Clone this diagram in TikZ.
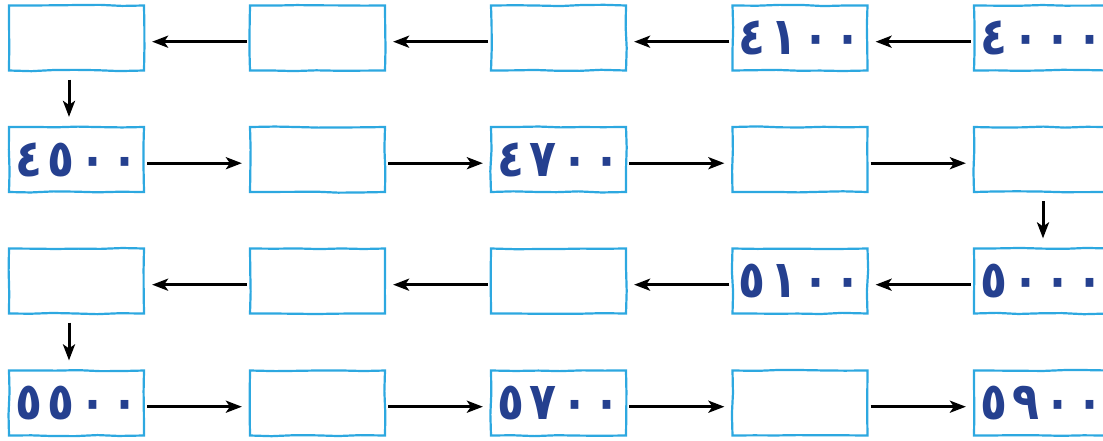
\documentclass[tikz,border=0pt]{standalone}
\usepackage{fontspec}
\usepackage{graphicx}
\usetikzlibrary{arrows.meta,decorations.pathmorphing}
\newfontfamily\arabicfont[Script=Arabic]{DejaVu Sans}
\definecolor{boxblue}{HTML}{2DA8E0}
\definecolor{numblue}{HTML}{25408F}
% four digits on a fixed pitch
\newcommand{\dg}[1]{\makebox[32pt]{\scalebox{0.85}[1]{#1}}}
\newcommand{\arnum}[4]{\dg{#1}\dg{#2}\dg{#3}\dg{#4}}
\tikzset{
    cell/.style={draw=boxblue, line width=2.2pt, minimum width=135pt, minimum height=65pt,
        inner sep=0pt, text=numblue, font=\arabicfont\bfseries\fontsize{52}{52}\selectfont,
        decorate, decoration={random steps, segment length=22pt, amplitude=0.7pt}},
    link/.style={-{Stealth[length=16pt,width=12pt,inset=4pt]}, line width=3pt,
        shorten >=7pt, shorten <=2pt}
}
\begin{document}
\begin{tikzpicture}[x=1pt,y=-1pt]
    \pgfmathsetseed{7}
    \useasboundingbox (0,0) rectangle (1103,440);
    \clip (0,0) rectangle (1103,440);

    % Riga 1 (da destra a sinistra)
    \node[cell] (a1) at (1041.5,38) {\arnum{٤}{٠}{٠}{٠}};
    \node[cell] (a2) at (800,38) {\arnum{٤}{١}{٠}{٠}};
    \node[cell] (a3) at (558.5,38) {};
    \node[cell] (a4) at (317.5,38) {};
    \node[cell] (a5) at (76.5,38) {};

    % Riga 2 (da sinistra a destra)
    \node[cell] (b1) at (76.5,159.5) {\arnum{٤}{٥}{٠}{٠}};
    \node[cell] (b2) at (317.5,159.5) {};
    \node[cell] (b3) at (558.5,159.5) {\arnum{٤}{٧}{٠}{٠}};
    \node[cell] (b4) at (800,159.5) {};
    \node[cell] (b5) at (1041.5,159.5) {};

    % Riga 3 (da destra a sinistra)
    \node[cell] (c1) at (1041.5,281) {\arnum{٥}{٠}{٠}{٠}};
    \node[cell] (c2) at (800,281) {\arnum{٥}{١}{٠}{٠}};
    \node[cell] (c3) at (558.5,281) {};
    \node[cell] (c4) at (317.5,281) {};
    \node[cell] (c5) at (76.5,281) {};

    % Riga 4 (da sinistra a destra)
    \node[cell] (d1) at (76.5,403) {\arnum{٥}{٥}{٠}{٠}};
    \node[cell] (d2) at (317.5,403) {};
    \node[cell] (d3) at (558.5,403) {\arnum{٥}{٧}{٠}{٠}};
    \node[cell] (d4) at (800,403) {};
    \node[cell] (d5) at (1041.5,403) {\arnum{٥}{٩}{٠}{٠}};

    % Frecce verso sinistra
    \foreach \p/\q in {a1/a2,a2/a3,a3/a4,a4/a5,c1/c2,c2/c3,c3/c4,c4/c5} {
        \draw[link] ([yshift=-3.7pt]\p.west) -- ([yshift=-3.7pt]\q.east);
    }
    % Frecce verso destra
    \foreach \p/\q in {b1/b2,b2/b3,b3/b4,b4/b5,d1/d2,d2/d3,d3/d4,d4/d5} {
        \draw[link] ([yshift=-3.7pt]\p.east) -- ([yshift=-3.7pt]\q.west);
    }

    % Frecce verticali
    \draw[link, shorten <=8pt, shorten >=9pt] ([xshift=-7.5pt]a5.south) -- ([xshift=-7.5pt]b1.north);
    \draw[link, shorten <=8pt, shorten >=9pt] ([xshift=1.5pt]b5.south) -- ([xshift=1.5pt]c1.north);
    \draw[link, shorten <=8pt, shorten >=9pt] ([xshift=-7.5pt]c5.south) -- ([xshift=-7.5pt]d1.north);

\end{tikzpicture}
\end{document}
